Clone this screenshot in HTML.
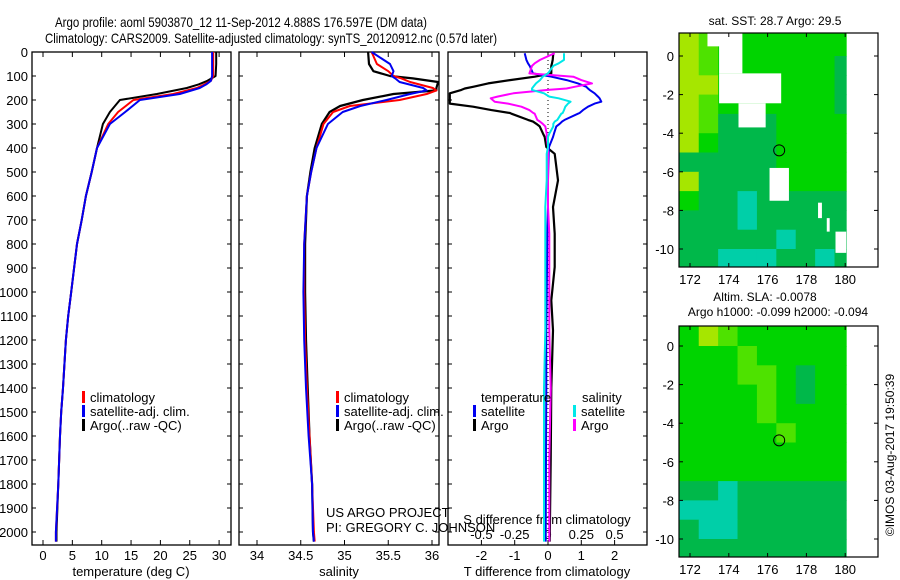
<!DOCTYPE html>
<html><head><meta charset="utf-8"><style>
html,body{margin:0;padding:0;background:#fff;width:900px;height:580px;overflow:hidden}
svg text{font-family:"Liberation Sans",sans-serif;fill:#000}
</style></head><body>
<svg id="c" width="900" height="580" viewBox="0 0 900 580" xmlns="http://www.w3.org/2000/svg">
<text x="55" y="27" font-size="14" textLength="372" lengthAdjust="spacingAndGlyphs">Argo profile: aoml 5903870_12 11-Sep-2012 4.888S 176.597E (DM data)</text>
<text x="45" y="43" font-size="14" textLength="452" lengthAdjust="spacingAndGlyphs">Climatology: CARS2009. Satellite-adjusted climatology: synTS_20120912.nc (0.57d later)</text>
<g id="g"></g>
</svg>
<script>
// ---- profile data ----
const tDepth=[0,50,100,120,135,150,175,200,250,300,400,500,600,700,800,900,1000,1100,1200,1400,1500,1600,1800,2000,2040];
const tClim=[29.0,29.0,29.0,28.6,27.5,26.2,22.2,15.4,12.8,11.1,9.2,8.3,7.3,6.6,5.8,5.3,4.8,4.3,3.9,3.4,3.1,2.9,2.6,2.2,2.2];
const tSat=[28.8,28.8,28.8,28.6,27.8,26.7,23.3,16.5,14.0,11.4,9.2,8.3,7.3,6.6,5.8,5.3,4.8,4.3,3.9,3.4,3.1,2.9,2.6,2.2,2.2];
const tArgo=[29.5,29.5,29.4,28.0,26.5,24.5,19.4,13.1,11.4,10.2,9.2,8.3,7.3,6.6,5.8,5.3,4.8,4.3,3.9,3.4,3.1,2.9,2.6,2.3,2.3];
const sDepth=[0,50,80,100,110,125,150,160,175,200,225,250,300,400,500,600,800,1000,1200,1400,1600,1800,2000,2040];
const sClim=[35.31,35.37,35.50,35.56,35.65,35.75,36.01,36.05,35.94,35.63,35.06,34.87,34.76,34.68,34.62,34.57,34.54,34.54,34.55,34.57,34.60,34.63,34.65,34.66];
const sSat=[35.31,35.52,35.56,35.54,35.58,35.63,35.90,35.94,35.75,35.48,35.18,34.98,34.81,34.68,34.62,34.57,34.54,34.53,34.54,34.56,34.59,34.63,34.64,34.65];
const sArgo=[35.27,35.28,35.33,35.52,35.78,36.07,36.05,36.05,35.56,35.21,34.95,34.83,34.74,34.66,34.61,34.57,34.55,34.55,34.56,34.58,34.60,34.63,34.64,34.65];
// ---- difference data ----
const dDepth=[5,33,47,58,89,103,117,131,145,152,158,172,186,193,207,215,228,242,254,257,283,290,299,310,340,354,396,424,535,646,757,896,1035,1160,1400,1700,2040];
const dTArgo=[0.16,0.14,0.12,0.1,0.1,-0.4,-1.14,-1.8,-2.25,-2.5,-2.6,-2.95,-2.95,-2.95,-2.95,-2.95,-2.25,-1.7,-1.14,-1.1,-0.6,-0.45,-0.35,-0.25,-0.15,-0.1,-0.05,0.2,0.3,0.15,0.2,0.2,0.1,0.15,0.1,0.08,0.05];
const dTSat=[-0.7,-0.65,-0.6,-0.55,-0.45,0.1,0.56,0.9,1.15,1.2,1.25,1.4,1.5,1.55,1.6,1.4,1.2,1.05,0.95,0.9,0.5,0.42,0.35,0.25,0.18,0.15,0.03,0.02,0.0,0.0,-0.02,-0.03,-0.04,-0.05,-0.05,-0.06,-0.07];
const dSArgo=[0.05,-0.06,-0.1,-0.12,-0.14,0.19,0.25,0.33,0.2,0.14,0.0,-0.26,-0.38,-0.43,-0.4,-0.3,-0.2,-0.14,-0.11,-0.1,-0.08,-0.06,-0.04,-0.02,-0.01,-0.01,0,0,0,0,0.01,0.01,0.01,0.01,0.02,0.01,0.01];
const dSSat=[0.12,0.12,0.08,0.04,0.0,-0.04,-0.06,-0.09,-0.11,-0.12,-0.12,-0.03,0.01,0.08,0.17,0.15,0.13,0.12,0.11,0.1,0.07,0.05,0.04,0.04,0.01,0,0,-0.01,-0.01,-0.02,-0.02,-0.02,-0.02,-0.02,-0.03,-0.03,-0.03];
// ---- map data (1-degree cells, value codes 1=teal..5=yellow-green) ----
const mapLons=[171.45,172.45,173.45,174.45,175.45,176.45,177.45,178.45,179.45,180.05];
const mapLats=[1.2,0,-1,-2,-3,-4,-5,-6,-7,-8,-9,-10,-10.9];
const sstGrid=[[5,4,3,3,3,3,3,3,3],[5,4,3,3,3,3,3,3,2],[5,5,3,3,3,3,3,3,2],[5,4,3,3,3,3,3,3,2],[5,4,2,2,2,3,3,3,3],[5,3,2,2,2,3,3,3,3],[2,2,2,2,2,3,3,3,3],[5,2,2,2,2,3,3,3,3],[3,2,2,1,2,2,2,2,2],[2,2,2,1,2,2,2,2,2],[2,2,2,2,2,1,2,2,2],[2,2,1,1,1,2,2,1,2]];
const slaGrid=[[3,5,4,3,3,3,3,3,3],[3,3,3,4,3,3,3,3,3],[3,3,3,4,4,3,2,3,3],[3,3,3,3,4,3,2,3,3],[3,3,3,3,4,3,3,3,3],[3,3,3,3,3,4,3,3,3],[3,3,3,3,3,3,3,3,3],[3,3,3,3,3,3,3,3,3],[2,2,1,2,2,2,2,2,2],[1,1,1,2,2,2,2,2,2],[2,1,1,2,2,2,2,2,2],[2,2,2,2,2,2,2,2,2]];
const cloudLon0=[172.9,173.5,173.5,174.5,176.1,178.6,179.05,179.5];
const cloudLon1=[174.0,174.7,176.7,175.9,177.1,178.8,179.2,180.05];
const cloudLat0=[1.2,1.2,-0.9,-2.45,-5.8,-7.6,-8.4,-9.1];
const cloudLat1=[0.5,-0.9,-2.45,-3.7,-7.5,-8.4,-9.1,-10.2];
const argoLon=176.597, argoLat=-4.888;
const depthTicks=[0,100,200,300,400,500,600,700,800,900,1000,1100,1200,1300,1400,1500,1600,1700,1800,1900,2000];
const tTicks=[0,5,10,15,20,25,30];
const sTicks=[34,34.5,35,35.5,36];
const dTTicks=[-2,-1,0,1,2];
const dSTicks=[-0.5,-0.25,0,0.25,0.5];
const lonTicks=[172,174,176,178,180];
const latTicks=[0,-2,-4,-6,-8,-10];
const colors=['','#00cfa8','#00b84a','#00d400','#4ee200','#a6e600'];

const NS='http://www.w3.org/2000/svg';
const G=document.getElementById('g');
function el(tag,attrs,parent){const e=document.createElementNS(NS,tag);for(const k in attrs)e.setAttribute(k,attrs[k]);(parent||G).appendChild(e);return e;}
const Y=d=>52+d*0.24;
const P1={x0:32,x1:231,y0:52,y1:545}, P2={x0:239,x1:439,y0:52,y1:545}, P3={x0:448,x1:647,y0:52,y1:545};
const xT=v=>43+v*5.87, xS=v=>257+(v-34)*87.5, xDT=v=>548+v*33.3, xDS=v=>548+v*133.2;

function frame(p,name){
  const r=el('rect',{x:p.x0,y:p.y0,width:p.x1-p.x0,height:p.y1-p.y0,fill:'none',stroke:'#000','stroke-width':1.3});
  
  
}
function txt(x,y,s,size,anchor,name){
  const t=el('text',{x:x,y:y,'font-size':size,'text-anchor':anchor||'start'});t.textContent=s;
  
  
  return t;
}
function line(vals,depths,fx,color,w,name){
  const pts=vals.map((v,i)=>fx(v).toFixed(1)+','+Y(depths[i]).toFixed(1)).join(' ');
  const l=el('polyline',{points:pts,fill:'none',stroke:color,'stroke-width':w,'stroke-linejoin':'round'});
  
  
}
function tick(x1,y1,x2,y2){el('line',{x1:x1,y1:y1,x2:x2,y2:y2,stroke:'#000','stroke-width':1});}
[P1,P2,P3].forEach((p,k)=>{
  frame(p,['temperature-panel','salinity-panel','difference-panel'][k]);
  depthTicks.forEach(d=>{tick(p.x0,Y(d),p.x0+4,Y(d));tick(p.x1,Y(d),p.x1-4,Y(d));});
});
depthTicks.forEach(d=>txt(28,Y(d)+5,String(d),13,'end','depth-tick-label'));
tTicks.forEach(v=>{tick(xT(v),545,xT(v),540);tick(xT(v),52,xT(v),57);txt(xT(v),560,String(v),13,'middle','temperature-tick-label');});
sTicks.forEach(v=>{tick(xS(v),545,xS(v),540);tick(xS(v),52,xS(v),57);txt(xS(v),560,String(v),13,'middle','salinity-tick-label');});
dTTicks.forEach(v=>{tick(xDT(v),545,xDT(v),540);tick(xDT(v),52,xDT(v),57);txt(xDT(v),560,String(v),13,'middle','t-diff-tick-label');});
dSTicks.forEach(v=>{txt(xDS(v),539,String(v),13,'middle','s-diff-tick-label');});
txt(131,576,'temperature (deg C)',13,'middle','temperature-axis-title');
txt(339,576,'salinity',13,'middle','salinity-axis-title');
txt(547,576,'T difference from climatology',13,'middle','t-diff-axis-title');
txt(547,524,'S difference from climatology',13,'middle','s-diff-axis-title');
// zero dotted
const z=el('line',{x1:548,y1:52,x2:548,y2:545,stroke:'#000','stroke-width':1,'stroke-dasharray':'1,3'});


// profiles
line(tArgo,tDepth,xT,'#000',2,'temperature-argo-line');
line(tClim,tDepth,xT,'#f00',2,'temperature-climatology-line');
line(tSat,tDepth,xT,'#0000f0',2,'temperature-satellite-line');
line(sArgo,sDepth,xS,'#000',2.2,'salinity-argo-line');
line(sClim,sDepth,xS,'#f00',2,'salinity-climatology-line');
line(sSat,sDepth,xS,'#0000f0',2,'salinity-satellite-line');
line(dTArgo,dDepth,xDT,'#000',2.2,'t-diff-argo-line');
line(dTSat,dDepth,xDT,'#0000f0',2,'t-diff-satellite-line');
line(dSArgo,dDepth,xDS,'#ff00ff',2,'s-diff-argo-line');
line(dSSat,dDepth,xDS,'#00e8e8',2,'s-diff-satellite-line');
// legends
function leg(x,y,color,label,name){
  const r=el('rect',{x:x,y:y-11,width:3,height:12,fill:color});
  
  
  if(label)txt(x+8,y,label,13,'start',name);
}
[[82,'climatology','#f00'],[82,'satellite-adj. clim.','#0000f0'],[82,'Argo(..raw -QC)','#000']].forEach((a,i)=>leg(a[0],402+i*14,a[2],a[1],'legend-entry'));
[[336,'climatology','#f00'],[336,'satellite-adj. clim.','#0000f0'],[336,'Argo(..raw -QC)','#000']].forEach((a,i)=>leg(a[0],402+i*14,a[2],a[1],'legend-entry'));
txt(481,402,'temperature',13,'start','legend-temperature-header');
txt(582,402,'salinity',13,'start','legend-salinity-header');
leg(473,416,'#0000f0','satellite','legend-t-satellite');
leg(473,430,'#000','Argo','legend-t-argo');
leg(573,416,'#00e8e8','satellite','legend-s-satellite');
leg(573,430,'#ff00ff','Argo','legend-s-argo');
txt(326,517,'US ARGO PROJECT',13,'start','project-label');
txt(326,532,'PI: GREGORY C. JOHNSON',13,'start','pi-label');
// maps
function map(top,bot,lat0y,grid,name,clouds){
  const x0=679,x1=878;
  const lx=lon=>690+(lon-172)*19.4, ly=lat=>lat0y-lat*((bot===267?249:539)-lat0y)/10;
  const g=el('g',{});
  
  
  grid.forEach((row,r)=>row.forEach((v,c)=>{
    const xa=Math.max(x0,lx(mapLons[c])),xb=lx(mapLons[c+1]),ya=Math.max(top,ly(mapLats[r])),yb=Math.min(bot,ly(mapLats[r+1]));
    const cell=el('rect',{x:xa,y:ya,width:xb-xa+0.5,height:yb-ya+0.5,fill:colors[v]},g);
    
    
  }));
  if(clouds)cloudLon0.forEach((l0,i)=>{
    const ya=Math.max(top,ly(cloudLat0[i]));
    const cr=el('rect',{x:lx(l0),y:ya,width:lx(cloudLon1[i])-lx(l0),height:ly(cloudLat1[i])-ya,fill:'#fff'},g);
    
    
  });
  const c=el('circle',{cx:lx(argoLon),cy:ly(argoLat),r:5.5,fill:'none',stroke:'#000','stroke-width':1},g);
  
  
  const f=el('rect',{x:x0,y:top,width:x1-x0,height:bot-top,fill:'none',stroke:'#000','stroke-width':1.2},g);
  
  
  lonTicks.forEach(v=>{tick(lx(v),bot,lx(v),bot-4);tick(lx(v),top,lx(v),top+4);txt(lx(v),bot+17,String(v),13,'middle','longitude-tick-label');});
  latTicks.forEach(v=>{tick(x0,ly(v),x0+4,ly(v));tick(x1,ly(v),x1-4,ly(v));txt(674,ly(v)+5,String(v),13,'end','latitude-tick-label');});
}
map(33,267,56,sstGrid,'sst-map',true);
map(326,557,346,slaGrid,'sla-map',false);
txt(775,25,'sat. SST: 28.7 Argo: 29.5',12,'middle','sst-map-title');
txt(765,301,'Altim. SLA: -0.0078',12,'middle','sla-map-title');
txt(778,316,'Argo h1000: -0.099 h2000: -0.094',12,'middle','sla-argo-heights');
const cr=txt(0,0,'©IMOS 03-Aug-2017 19:50:39',12,'middle','copyright-stamp');
cr.setAttribute('transform','translate(894,455) rotate(-90)');
</script>
</body></html>
